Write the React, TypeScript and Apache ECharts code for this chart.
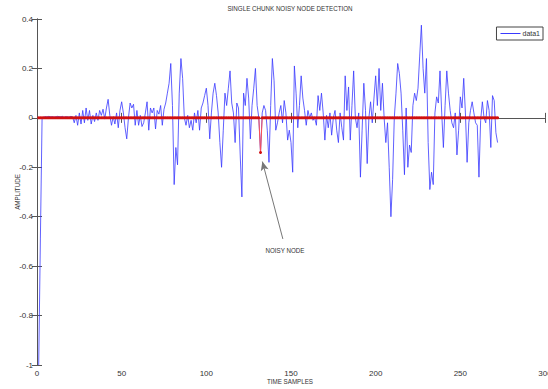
import React, { useEffect, useRef } from "react";
import * as echarts from "echarts";

// Blue trace (data1), samples 1..272
const blueValues: number[] = [
  -1.0, -0.49, 0.0, 0.003, 0.005, 0.004, 0.006, 0.004, 0.005, 0.003,
  0.004, 0.006, 0.005, 0.004, 0.006, 0.002, 0.005, 0.004, 0.003, 0.006,
  0.004, -0.02, 0.01, -0.03, 0.02, -0.025, 0.03, -0.02, 0.04, -0.01,
  0.03, -0.025, 0.01, -0.015, 0.02, -0.01, 0.03, 0.01, 0.035, -0.005,
  0.04, 0.075, 0.01, -0.03, 0.005, -0.025, 0.02, -0.04, 0.03, 0.065,
  0.02, -0.04, -0.085, 0.0, 0.06, 0.04, 0.055, -0.03, 0.03, -0.03,
  0.01, -0.035, -0.02, 0.02, 0.065, -0.05, 0.04, 0.02, 0.04, -0.045,
  0.03, 0.015, 0.05, -0.03, 0.035, 0.06, 0.1, 0.14, 0.22, 0.05,
  -0.27, -0.12, -0.19, 0.1, 0.24, 0.16, 0.0, -0.03, 0.01, -0.04,
  -0.01, -0.05, 0.02, -0.02, 0.03, -0.05, 0.04, 0.06, 0.09, 0.12,
  0.05, -0.085, 0.02, 0.1, 0.14, 0.09, 0.02, -0.1, -0.2, -0.05,
  0.1, 0.05, 0.12, 0.19, 0.06, 0.02, -0.1, 0.06, 0.04, -0.15,
  -0.32, 0.1, 0.05, 0.16, 0.08, -0.085, 0.05, 0.12, 0.2, 0.05,
  0.0, -0.14, 0.02, 0.05, 0.03, -0.05, -0.18, 0.05, 0.24, 0.15,
  -0.05, -0.02, 0.02, 0.05, -0.02, 0.07, 0.02, -0.09, -0.05, -0.1,
  -0.22, 0.21, 0.1, -0.04, 0.05, 0.17, 0.08, 0.03, -0.03, 0.03,
  0.0, 0.02, -0.01, 0.0, -0.03, 0.09, 0.03, 0.1, 0.02, -0.09,
  0.01, -0.04, 0.02, -0.07, 0.0, 0.03, -0.05, -0.1, 0.02, -0.04,
  -0.09, 0.17, 0.03, 0.125, -0.09, 0.05, 0.19, 0.0, -0.04, 0.02,
  -0.24, -0.05, 0.14, 0.03, -0.185, 0.0, 0.065, -0.02, 0.08, 0.17,
  0.05, 0.2, 0.03, 0.14, 0.0, -0.1, -0.02, -0.2, -0.4, -0.25,
  0.0, 0.1, 0.22, 0.18, 0.1, -0.05, -0.23, 0.04, -0.2, -0.11,
  -0.14, 0.05, 0.1, 0.07, 0.12, 0.25, 0.375, 0.2, 0.1, 0.24,
  -0.1, -0.29, -0.22, -0.27, 0.02, 0.085, 0.06, 0.19, 0.02, -0.12,
  0.05, 0.19, 0.1, 0.03, -0.02, -0.04, 0.02, -0.15, -0.05, 0.085,
  0.04, 0.16, 0.02, -0.18, -0.02, 0.03, 0.065, 0.02, -0.02, -0.03,
  -0.24, -0.01, 0.065, 0.0, -0.02, 0.07, 0.03, -0.12, 0.09, 0.07,
  -0.06, -0.1,
];

const sampleIndex: number[] = blueValues.map((_, i) => i + 1);

// Red detection trace: zero everywhere except the noisy node
const noisyNodeIndex = 132;
const noisyNodeValue = -0.14;
const redValues: number[] = sampleIndex.map((i) => (i === noisyNodeIndex ? noisyNodeValue : 0));

// Annotation arrow (data coordinates): tail -> head
const arrowTail: [number, number] = [145.2, -0.49];
const arrowHead: [number, number] = [133.1, -0.177];

const xTicks = [0, 50, 100, 150, 200, 250, 300];
const yTicks = [-1, -0.8, -0.6, -0.4, -0.2, 0, 0.2, 0.4];

const FONT = "'Liberation Sans Narrow', 'Liberation Sans', Arial, sans-serif";
const NARROW = 0.78;

export default function App() {
  const ref = useRef<HTMLDivElement>(null);

  useEffect(() => {
    document.body.style.margin = "0";
    if (!ref.current) return;
    const chart = echarts.init(ref.current, undefined, { renderer: "svg" });

    const axisLine = { show: true, lineStyle: { color: "#555", width: 1 } };
    const axisTick = { show: true, inside: true, length: 5, lineStyle: { color: "#555", width: 1 } };
    const axisLabel = { color: "#333", fontSize: 8, fontFamily: FONT };

    chart.setOption({
      animation: false,
      backgroundColor: "#ffffff",
      legend: {
        data: ["data1"],
        right: 5,
        top: 27,
        orient: "vertical",
        backgroundColor: "#fff",
        borderColor: "#444",
        borderWidth: 1,
        padding: [3, 3, 3, 4],
        itemWidth: 20,
        itemHeight: 1,
        itemGap: 2,
        icon: "rect",
        textStyle: { fontSize: 7, color: "#333", fontFamily: FONT, padding: [0, 0, 0, -3] },
      },
      grid: { left: 37, right: 3, top: 19, bottom: 24, containLabel: false, outerBoundsMode: "none" },
      xAxis: [
        {
          type: "value",
          min: xTicks[0],
          max: xTicks[xTicks.length - 1],
          interval: 50,
          axisLine,
          axisTick,
          axisLabel: { ...axisLabel, margin: 4 },
          splitLine: { show: false },
        },
        {
          type: "value",
          position: "top",
          min: xTicks[0],
          max: xTicks[xTicks.length - 1],
          interval: 50,
          axisLine,
          axisTick,
          axisLabel: { show: false },
          splitLine: { show: false },
        },
      ],
      yAxis: [
        {
          type: "value",
          min: yTicks[0],
          max: yTicks[yTicks.length - 1],
          interval: 0.2,
          axisLine,
          axisTick,
          axisLabel: {
            ...axisLabel,
            margin: 4,
            formatter: (v: number) => String(Math.round(v * 10) / 10),
          },
          splitLine: { show: false },
        },
        {
          type: "value",
          position: "right",
          min: yTicks[0],
          max: yTicks[yTicks.length - 1],
          interval: 0.2,
          axisLine,
          axisTick,
          axisLabel: { show: false },
          splitLine: { show: false },
        },
      ],
      graphic: [
        {
          type: "text",
          x: 290,
          y: 9,
          scaleX: NARROW,
          style: {
            text: "SINGLE CHUNK NOISY NODE DETECTION",
            fontSize: 8,
            fill: "#333",
            fontFamily: FONT,
            align: "center",
            verticalAlign: "middle",
          },
        },
        {
          type: "text",
          x: 290,
          y: 382,
          scaleX: NARROW,
          style: {
            text: "TIME SAMPLES",
            fontSize: 8,
            fill: "#333",
            fontFamily: FONT,
            align: "center",
            verticalAlign: "middle",
          },
        },
        {
          type: "text",
          x: 18,
          y: 192,
          rotation: Math.PI / 2,
          scaleX: NARROW,
          style: {
            text: "AMPLITUDE",
            fontSize: 8,
            fill: "#333",
            fontFamily: FONT,
            align: "center",
            verticalAlign: "middle",
          },
        },
        {
          type: "text",
          x: 285,
          y: 251,
          scaleX: NARROW,
          style: {
            text: "NOISY NODE",
            fontSize: 8,
            fill: "#333",
            fontFamily: FONT,
            align: "center",
            verticalAlign: "middle",
          },
        },
      ],
      series: [
        {
          name: "data1",
          type: "line",
          data: sampleIndex.map((x, i) => [x, blueValues[i]]),
          showSymbol: false,
          lineStyle: { color: "#3a3aff", width: 1, opacity: 0.8 },
          itemStyle: { color: "#3a3aff" },
          z: 2,
        },
        {
          name: "detection",
          type: "line",
          data: sampleIndex.map((x, i) => [x, redValues[i]]),
          showSymbol: true,
          showAllSymbol: true,
          symbol: "circle",
          symbolSize: 3,
          lineStyle: { color: "#ff5050", width: 1 },
          itemStyle: { color: "#d01010" },
          z: 3,
          markLine: {
            silent: true,
            symbol: ["none", "arrow"],
            symbolSize: [6, 9],
            label: { show: false },
            lineStyle: { color: "#777", width: 1, type: "solid" },
            data: [[{ coord: arrowTail }, { coord: arrowHead }]],
          },
        },
      ],
    });

    return () => chart.dispose();
  }, []);

  return <div ref={ref} style={{ width: 548, height: 389 }} />;
}
